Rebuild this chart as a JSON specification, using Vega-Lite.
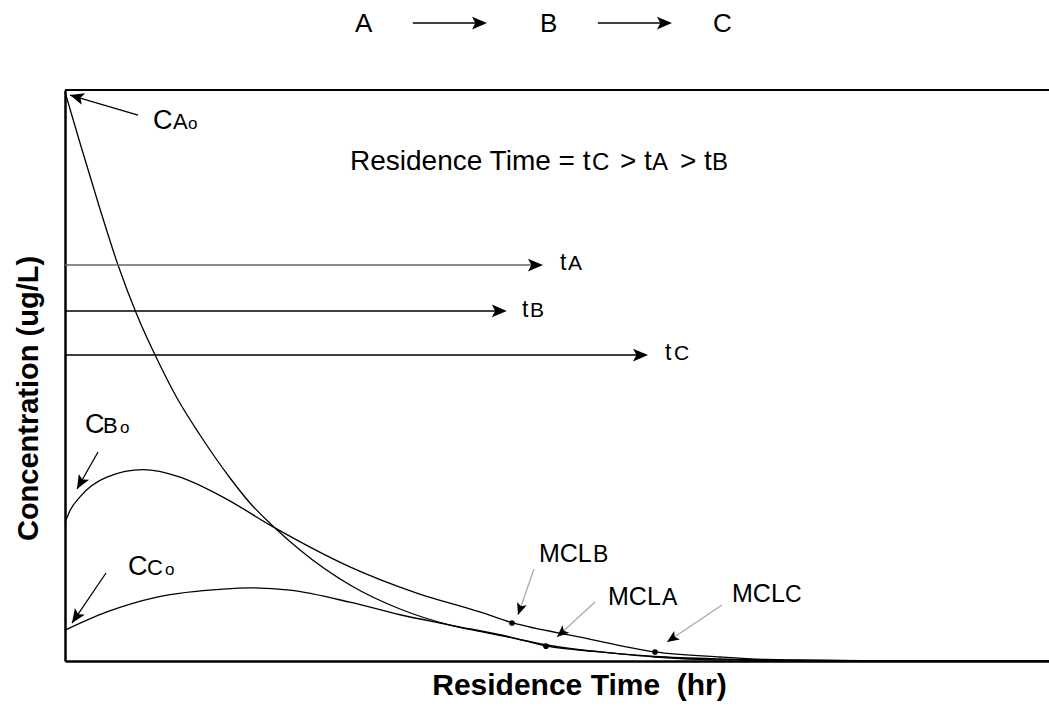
{
  "$schema": "https://vega.github.io/schema/vega-lite/v6.json",
  "width": 984,
  "height": 571,
  "autosize": {"type": "none"},
  "padding": {"left": 65, "top": 90, "right": 0, "bottom": 45},
  "background": "white",
  "config": {"view": {"stroke": null}, "font": "Liberation Sans"},
  "datasets": {
    "curves": [
      {"curve": "CA", "t": 0, "c": 99.65}, {"curve": "CA", "t": 0.305, "c": 90.72}, {"curve": "CA", "t": 0.711, "c": 79.16},
      {"curve": "CA", "t": 1.077, "c": 69.35}, {"curve": "CA", "t": 1.463, "c": 60.6}, {"curve": "CA", "t": 1.87, "c": 52.89},
      {"curve": "CA", "t": 2.276, "c": 46.06}, {"curve": "CA", "t": 2.744, "c": 39.58}, {"curve": "CA", "t": 3.354, "c": 32.05},
      {"curve": "CA", "t": 3.76, "c": 27.67}, {"curve": "CA", "t": 4.268, "c": 23.3}, {"curve": "CA", "t": 4.776, "c": 19.44},
      {"curve": "CA", "t": 5.793, "c": 13.31}, {"curve": "CA", "t": 6.809, "c": 9.11}, {"curve": "CA", "t": 7.825, "c": 6.3},
      {"curve": "CA", "t": 8.435, "c": 5.17}, {"curve": "CA", "t": 9.045, "c": 4.12}, {"curve": "CA", "t": 9.797, "c": 2.8},
      {"curve": "CA", "t": 10.874, "c": 1.58}, {"curve": "CA", "t": 11.992, "c": 0.79}, {"curve": "CA", "t": 13.313, "c": 0.35},
      {"curve": "CA", "t": 14.939, "c": 0.14}, {"curve": "CA", "t": 16.972, "c": 0.035}, {"curve": "CA", "t": 20, "c": 0},
      {"curve": "CB", "t": 0, "c": 24.2}, {"curve": "CB", "t": 0.1, "c": 26.3}, {"curve": "CB", "t": 0.3, "c": 28.7},
      {"curve": "CB", "t": 0.85, "c": 32.2}, {"curve": "CB", "t": 1.59, "c": 33.5}, {"curve": "CB", "t": 2.34, "c": 32.2},
      {"curve": "CB", "t": 3.21, "c": 28.7}, {"curve": "CB", "t": 4.23, "c": 23.5}, {"curve": "CB", "t": 5.79, "c": 16.5},
      {"curve": "CB", "t": 7.15, "c": 11.9}, {"curve": "CB", "t": 8.43, "c": 8.6}, {"curve": "CB", "t": 9.09, "c": 6.7},
      {"curve": "CB", "t": 10.47, "c": 4.2}, {"curve": "CB", "t": 11.99, "c": 1.6}, {"curve": "CB", "t": 13.31, "c": 0.7},
      {"curve": "CB", "t": 14.27, "c": 0.26}, {"curve": "CB", "t": 15.96, "c": 0.05}, {"curve": "CB", "t": 20, "c": 0},
      {"curve": "CC", "t": 0, "c": 5.4}, {"curve": "CC", "t": 0.85, "c": 8.6}, {"curve": "CC", "t": 1.87, "c": 11.2},
      {"curve": "CC", "t": 3.21, "c": 12.6}, {"curve": "CC", "t": 3.76, "c": 12.8}, {"curve": "CC", "t": 4.57, "c": 12.4},
      {"curve": "CC", "t": 5.79, "c": 10.3}, {"curve": "CC", "t": 6.81, "c": 8.1}, {"curve": "CC", "t": 7.83, "c": 6.3},
      {"curve": "CC", "t": 9.05, "c": 4.2}, {"curve": "CC", "t": 9.8, "c": 2.6}, {"curve": "CC", "t": 10.87, "c": 1.6},
      {"curve": "CC", "t": 11.99, "c": 0.7}, {"curve": "CC", "t": 13.31, "c": 0.18}, {"curve": "CC", "t": 14.94, "c": 0.04},
      {"curve": "CC", "t": 20, "c": 0}
    ],
    "segs": [
      {"id": "tA", "kind": "tA", "t": 0, "c": 69.35, "t2": 9.55, "c2": 69.35},
      {"id": "tB", "kind": "plain", "t": 0, "c": 61.3, "t2": 8.84, "c2": 61.3},
      {"id": "tC", "kind": "plain", "t": 0, "c": 53.59, "t2": 11.71, "c2": 53.59},
      {"id": "AB", "kind": "plain", "t": 7.07, "c": 111.73, "t2": 8.45, "c2": 111.73},
      {"id": "BC", "kind": "plain", "t": 10.83, "c": 111.73, "t2": 12.21, "c2": 111.73},
      {"id": "CAo", "kind": "plain", "t": 1.484, "c": 95.62, "t2": 0.102, "c2": 99.12},
      {"id": "CBo", "kind": "plain", "t": 0.671, "c": 36.6, "t2": 0.244, "c2": 30.12},
      {"id": "CCo", "kind": "plain", "t": 0.833, "c": 15.41, "t2": 0.142, "c2": 6.65},
      {"id": "MCLB", "kind": "mcl", "t": 9.533, "c": 16.11, "t2": 9.207, "c2": 8.06},
      {"id": "MCLA", "kind": "mcl", "t": 10.772, "c": 10.33, "t2": 10.0, "c2": 4.2},
      {"id": "MCLC", "kind": "mcl", "t": 13.354, "c": 9.81, "t2": 12.236, "c2": 3.33}
    ],
    "frame": [{"t": 0, "c": 100, "t2": 20, "c2": 100}],
    "heads": [
      {"id": "tA", "kind": "h", "t": 9.715, "c": 69.35, "angle": 0},
      {"id": "tB", "kind": "h", "t": 8.98, "c": 61.3, "angle": 0},
      {"id": "tC", "kind": "h", "t": 11.85, "c": 53.59, "angle": 0},
      {"id": "AB", "kind": "h", "t": 8.577, "c": 111.73, "angle": 0},
      {"id": "BC", "kind": "h", "t": 12.337, "c": 111.73, "angle": 0},
      {"id": "CAo", "kind": "c", "t": 0.102, "c": 99.12, "angle": 196.4},
      {"id": "CBo", "kind": "c", "t": 0.244, "c": 30.12, "angle": 119.6},
      {"id": "CCo", "kind": "c", "t": 0.142, "c": 6.65, "angle": 124.2},
      {"id": "MCLB", "kind": "m", "t": 9.207, "c": 8.06, "angle": 109.2},
      {"id": "MCLA", "kind": "m", "t": 10.0, "c": 4.2, "angle": 137.4},
      {"id": "MCLC", "kind": "m", "t": 12.236, "c": 3.33, "angle": 146.1}
    ],
    "dots": [
      {"id": "MCLB", "t": 9.085, "c": 6.65},
      {"id": "MCLA", "t": 9.776, "c": 2.6},
      {"id": "MCLC", "t": 11.992, "c": 1.58}
    ],
    "labels": [
      {"text": "A", "role": "top", "t": 5.894, "c": 110.16},
      {"text": "B", "role": "top", "t": 9.654, "c": 110.16},
      {"text": "C", "role": "top", "t": 13.171, "c": 110.16},
      {"text": "Residence Time = t", "role": "res", "t": 5.793, "c": 85.99},
      {"text": "C", "role": "ressub", "t": 10.711, "c": 85.99},
      {"text": ">", "role": "res", "t": 11.28, "c": 85.99},
      {"text": "t", "role": "res", "t": 11.768, "c": 85.99},
      {"text": "A", "role": "ressub", "t": 11.931, "c": 85.99},
      {"text": ">", "role": "res", "t": 12.5, "c": 85.99},
      {"text": "t", "role": "res", "t": 12.988, "c": 85.99},
      {"text": "B", "role": "ressub", "t": 13.15, "c": 85.99},
      {"text": "C", "role": "C", "t": 1.789, "c": 93.17},
      {"text": "A", "role": "Csub", "t": 2.195, "c": 93.17},
      {"text": "o", "role": "o", "t": 2.5, "c": 93.17},
      {"text": "C", "role": "C", "t": 0.407, "c": 39.93},
      {"text": "B", "role": "Csub", "t": 0.772, "c": 39.93},
      {"text": "o", "role": "o", "t": 1.118, "c": 39.93},
      {"text": "C", "role": "C", "t": 1.28, "c": 15.06},
      {"text": "C", "role": "Csub", "t": 1.667, "c": 15.06},
      {"text": "o", "role": "o", "t": 2.033, "c": 15.06},
      {"text": "MCL", "role": "mcl", "t": 9.634, "c": 17.34},
      {"text": "B", "role": "mclsub", "t": 10.732, "c": 17.34},
      {"text": "MCL", "role": "mcl", "t": 11.037, "c": 9.81},
      {"text": "A", "role": "mclsub", "t": 12.134, "c": 9.81},
      {"text": "MCL", "role": "mcl", "t": 13.557, "c": 10.33},
      {"text": "C", "role": "mclsub", "t": 14.634, "c": 10.33},
      {"text": "t", "role": "t", "t": 10.061, "c": 68.48},
      {"text": "A", "role": "tsub", "t": 10.224, "c": 68.48},
      {"text": "t", "role": "t", "t": 9.289, "c": 60.25},
      {"text": "B", "role": "tsub", "t": 9.451, "c": 60.25},
      {"text": "t", "role": "t", "t": 12.195, "c": 52.71},
      {"text": "C", "role": "tsub", "t": 12.378, "c": 52.71}
    ]
  },
  "encoding": {
    "x": {
      "field": "t", "type": "quantitative",
      "scale": {"domain": [0, 20], "nice": false, "zero": false},
      "axis": {
        "title": "Residence Time \u00a0(hr)", "labels": false, "ticks": false, "grid": false,
        "domainColor": "#000", "domainWidth": 2.5,
        "titleFont": "Liberation Sans", "titleFontSize": 30, "titleFontWeight": "bold", "titleColor": "#000",
        "titleX": 514, "titleY": 24, "titleBaseline": "middle", "titleAlign": "center"
      }
    },
    "y": {
      "field": "c", "type": "quantitative",
      "scale": {"domain": [0, 100], "nice": false, "zero": false},
      "axis": {
        "title": "Concentration (ug/L)", "labels": false, "ticks": false, "grid": false,
        "domainColor": "#000", "domainWidth": 2.5,
        "titleFont": "Liberation Sans", "titleFontSize": 29, "titleFontWeight": "bold", "titleColor": "#000",
        "titleX": -37, "titleY": 308, "titleBaseline": "middle", "titleAlign": "center", "titleAngle": 270
      }
    }
  },
  "layer": [
    {
      "data": {"name": "frame"},
      "mark": {"type": "rule", "color": "#000", "strokeWidth": 2},
      "encoding": {"x2": {"field": "t2"}, "y2": {"field": "c2"}}
    },
    {
      "data": {"name": "curves"},
      "mark": {"type": "line", "color": "#000", "strokeWidth": 1.3, "interpolate": "monotone"},
      "encoding": {"detail": {"field": "curve", "type": "nominal"}}
    },
    {
      "data": {"name": "segs"},
      "mark": {"type": "rule", "strokeWidth": 1.3},
      "encoding": {
        "x2": {"field": "t2"}, "y2": {"field": "c2"},
        "color": {"field": "kind", "type": "nominal", "scale": {"domain": ["plain", "tA", "mcl"], "range": ["#000000", "#666666", "#aaaaaa"]}, "legend": null}
      }
    },
    {
      "data": {"name": "heads"},
      "transform": [{"filter": "datum.kind === 'h'"}],
      "mark": {"type": "point", "shape": "M0,0L-2,-0.85L-1.55,0L-2,0.85Z", "filled": true, "color": "#000", "opacity": 1, "size": 225},
      "encoding": {"angle": {"field": "angle", "type": "quantitative", "scale": null}}
    },
    {
      "data": {"name": "heads"},
      "transform": [{"filter": "datum.kind === 'c'"}],
      "mark": {"type": "point", "shape": "M0,0L-2,-0.85L-1.55,0L-2,0.85Z", "filled": true, "color": "#000", "opacity": 1, "size": 196},
      "encoding": {"angle": {"field": "angle", "type": "quantitative", "scale": null}}
    },
    {
      "data": {"name": "heads"},
      "transform": [{"filter": "datum.kind === 'm'"}],
      "mark": {"type": "point", "shape": "M0,0L-2,-0.85L-1.55,0L-2,0.85Z", "filled": true, "color": "#000", "opacity": 1, "size": 144},
      "encoding": {"angle": {"field": "angle", "type": "quantitative", "scale": null}}
    },
    {
      "data": {"name": "dots"},
      "mark": {"type": "circle", "color": "#000", "opacity": 1, "size": 32}
    },
    {
      "data": {"name": "labels"},
      "transform": [{"filter": "datum.role === 'top'"}],
      "mark": {"type": "text", "align": "left", "baseline": "alphabetic", "color": "#000", "fontSize": 26},
      "encoding": {"text": {"field": "text"}}
    },
    {
      "data": {"name": "labels"},
      "transform": [{"filter": "datum.role === 'res'"}],
      "mark": {"type": "text", "align": "left", "baseline": "alphabetic", "color": "#000", "fontSize": 28},
      "encoding": {"text": {"field": "text"}}
    },
    {
      "data": {"name": "labels"},
      "transform": [{"filter": "datum.role === 'ressub'"}],
      "mark": {"type": "text", "align": "left", "baseline": "alphabetic", "color": "#000", "fontSize": 24},
      "encoding": {"text": {"field": "text"}}
    },
    {
      "data": {"name": "labels"},
      "transform": [{"filter": "datum.role === 'C'"}],
      "mark": {"type": "text", "align": "left", "baseline": "alphabetic", "color": "#000", "fontSize": 27},
      "encoding": {"text": {"field": "text"}}
    },
    {
      "data": {"name": "labels"},
      "transform": [{"filter": "datum.role === 'Csub'"}],
      "mark": {"type": "text", "align": "left", "baseline": "alphabetic", "color": "#000", "fontSize": 22},
      "encoding": {"text": {"field": "text"}}
    },
    {
      "data": {"name": "labels"},
      "transform": [{"filter": "datum.role === 'mclsub'"}],
      "mark": {"type": "text", "align": "left", "baseline": "alphabetic", "color": "#000", "fontSize": 23},
      "encoding": {"text": {"field": "text"}}
    },
    {
      "data": {"name": "labels"},
      "transform": [{"filter": "datum.role === 'o'"}],
      "mark": {"type": "text", "align": "left", "baseline": "alphabetic", "color": "#000", "fontSize": 17},
      "encoding": {"text": {"field": "text"}}
    },
    {
      "data": {"name": "labels"},
      "transform": [{"filter": "datum.role === 'mcl'"}],
      "mark": {"type": "text", "align": "left", "baseline": "alphabetic", "color": "#000", "fontSize": 25},
      "encoding": {"text": {"field": "text"}}
    },
    {
      "data": {"name": "labels"},
      "transform": [{"filter": "datum.role === 't'"}],
      "mark": {"type": "text", "align": "left", "baseline": "alphabetic", "color": "#000", "fontSize": 23},
      "encoding": {"text": {"field": "text"}}
    },
    {
      "data": {"name": "labels"},
      "transform": [{"filter": "datum.role === 'tsub'"}],
      "mark": {"type": "text", "align": "left", "baseline": "alphabetic", "color": "#000", "fontSize": 21},
      "encoding": {"text": {"field": "text"}}
    }
  ]
}
